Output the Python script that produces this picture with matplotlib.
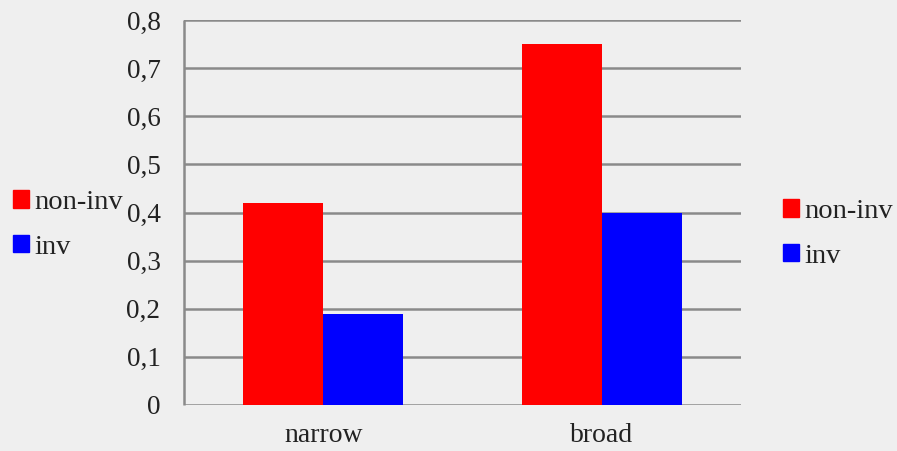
import matplotlib
matplotlib.use("Agg")
import matplotlib.pyplot as plt
import matplotlib.patches as mpatches
import numpy as np

categories = ["narrow", "broad"]
series_names = ["non-inv", "inv"]
non_inv = [0.42, 0.75]
inv = [0.19, 0.40]
yticks = [0, 0.1, 0.2, 0.3, 0.4, 0.5, 0.6, 0.7, 0.8]
ytick_labels = ["0", "0,1", "0,2", "0,3", "0,4", "0,5", "0,6", "0,7", "0,8"]
colors = ["#ff0000", "#0000ff"]

plt.rcParams['font.family'] = ['Liberation Serif', 'DejaVu Serif']

fig = plt.figure(figsize=(8.97, 4.51), dpi=100, facecolor="#efefef")
ax = fig.add_axes([184/897, 1-405/451, (741-184)/897, (405-20)/451])
ax.set_facecolor("#efefef")

x = np.arange(len(categories))
w = 0.2875
ax.bar(x - w/2, non_inv, width=w, color=colors[0], zorder=3)
ax.bar(x + w/2, inv, width=w, color=colors[1], zorder=3)

ax.set_xlim(-0.5, 1.5)
ax.set_ylim(0, 0.8)
ax.set_yticks(yticks)
ax.set_yticklabels(ytick_labels)
ax.set_xticks(x)
ax.set_xticklabels(categories)
ax.tick_params(axis='y', length=0, pad=17, labelsize=19.5, colors="#222222")
ax.tick_params(axis='x', length=0, pad=13, labelsize=20, colors="#222222")
for t in yticks:
    ax.axhline(t, color="#8a8a8a", lw=1.8, zorder=1)
for s in ["top", "right", "bottom"]:
    ax.spines[s].set_visible(False)
ax.spines["left"].set_color("#8a8a8a")
ax.spines["left"].set_linewidth(1.8)
ax.spines["left"].set_capstyle("butt")

handles = [mpatches.Patch(color=c) for c in colors]
kw = dict(frameon=False, fontsize=20.5, handlelength=0.55, handleheight=0.55,
          handletextpad=0.2, labelspacing=0.7, borderaxespad=0, borderpad=0,
          labelcolor="#222222")
fig.legend(handles, series_names, loc="upper left",
           bbox_to_anchor=(13/897, 1-190/451), **kw)
fig.legend(handles, series_names, loc="upper left",
           bbox_to_anchor=(783/897, 1-199/451), **kw)

fig.savefig("out.png", dpi=100, facecolor=fig.get_facecolor())
